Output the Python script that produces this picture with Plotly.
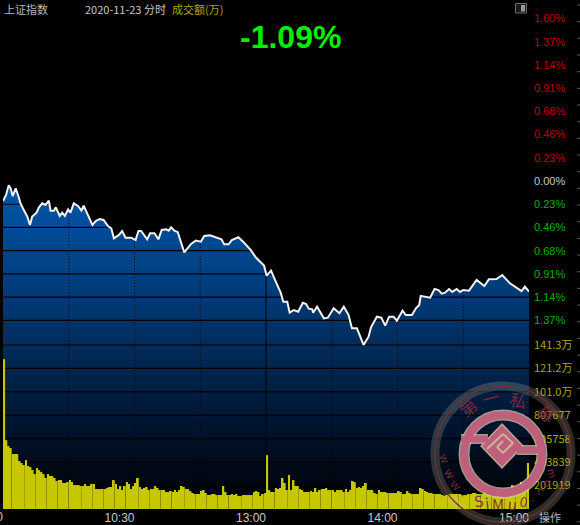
import plotly.graph_objects as go

# Minutes since 09:30 and % change of the index
minutes = [
    0, 1.4, 2.6, 3.5, 4.4, 5.8, 7, 8, 9.5, 11.1, 12.3, 13.3, 15.3, 16.4, 17.9, 19.4, 20.9, 21.7, 23.2, 24.1,
    25.9, 27, 28.2, 29.7, 30.8, 32.3, 34.2, 35.8, 36.8, 38.3, 39.5, 40.8, 42.3, 44.1, 45.9, 47.9, 49.4, 50.6,
    52.9, 54.4, 55.9, 58.5, 60.5, 61.8, 63, 65.8, 67.1, 69.1, 70.9, 72.4, 74.4, 75.6, 76.7, 78.2, 79.7, 82.7,
    85.8, 88, 90.3, 91.8, 94.4, 97.1, 99.7, 100.9, 102.9, 104.4, 107.4, 110, 113, 115.3, 119.1, 120.3, 122.3,
    124.1, 126.7, 127.9, 129.7, 130.8, 132.7, 134.7, 136.8, 138.3, 139.5, 141.1, 141.5, 143.3, 146.4, 148.2,
    150.9, 153.5, 155.5, 157.7, 159.2, 161.5, 164.5, 166.8, 167.9, 170.6, 172.6, 174.4, 176.2, 178.2, 179.7,
    182.3, 183.8, 186.6, 188.4, 189.9, 190.6, 194.9, 196.9, 198.7, 200.2, 201.7, 203.5, 205, 207, 208.5, 210,
    212.6, 216.1, 219.6, 221.7, 225.2, 227.8, 231.3, 235, 236.6, 238.1, 240,
]
pct_change = [
    -0.197, -0.138, -0.043, -0.072, -0.148, -0.072, -0.148, -0.22, -0.285, -0.351, -0.433, -0.351, -0.312,
    -0.259, -0.22, -0.236, -0.194, -0.292, -0.292, -0.259, -0.344, -0.312, -0.344, -0.279, -0.312, -0.22,
    -0.246, -0.292, -0.243, -0.318, -0.384, -0.433, -0.394, -0.374, -0.384, -0.443, -0.466, -0.564, -0.531,
    -0.492, -0.558, -0.558, -0.581, -0.492, -0.492, -0.574, -0.515, -0.515, -0.574, -0.482, -0.476, -0.489,
    -0.456, -0.489, -0.502, -0.702, -0.62, -0.587, -0.597, -0.541, -0.535, -0.558, -0.574, -0.623, -0.623,
    -0.581, -0.554, -0.607, -0.679, -0.751, -0.833, -0.932, -0.883, -0.974, -1.099, -1.188, -1.188, -1.296,
    -1.27, -1.286, -1.198, -1.211, -1.257, -1.263, -1.296, -1.237, -1.352, -1.345, -1.253, -1.302, -1.237,
    -1.319, -1.45, -1.45, -1.614, -1.532, -1.44, -1.335, -1.345, -1.424, -1.335, -1.335, -1.375, -1.276,
    -1.319, -1.319, -1.253, -1.22, -1.132, -1.148, -1.063, -1.073, -1.109, -1.099, -1.063, -1.092, -1.063,
    -1.092, -1.073, -1.079, -0.974, -1.033, -0.968, -0.965, -0.925, -1.007, -1.056, -1.083, -1.04, -1.089,
]

# Turnover per minute, in units of 10 000
volume = [
    129, 59.3, 54.2, 52.5, 47.3, 47.3, 47.3, 41.3, 39.6, 37.8, 42.1, 37, 36.1, 33.5, 30.1, 35.3, 33.5, 31.8, 30.1, 26.7,
    30.1, 28.4, 28.4, 26.7, 24.1, 24.9, 24.9, 22.4, 22.4, 23.2, 24.9, 23.2, 20.6, 20.6, 20.6, 19.8, 19.8, 21.5, 19.8, 19.8,
    21.5, 21.5, 17.2, 17.2, 17.2, 17.2, 17.2, 18.1, 18.9, 18.9, 24.9, 21.5, 17.2, 19.8, 16.3, 19.8, 23.2, 21.5, 17.2, 19.8,
    22.4, 26.7, 18.9, 17.2, 18.1, 18.9, 16.3, 17.2, 17.2, 19.8, 18.1, 16.3, 16.3, 16.3, 14.6, 14.6, 15.5, 14.6, 16.3, 14.6,
    16.3, 19.8, 18.9, 17.2, 17.2, 15.5, 13.8, 12.9, 12.9, 12.9, 15.5, 16.3, 13.8, 12, 12, 12.9, 12.9, 12, 12, 12,
    19.8, 14.6, 12, 12, 12.9, 12, 12.9, 11.2, 11.2, 12, 12, 12, 12, 12, 14.6, 15.5, 14.6, 11.2, 12.9, 13.8,
    46.4, 16.3, 14.6, 14.6, 18.1, 17.2, 18.1, 26.7, 22.4, 16.3, 29.2, 16.3, 24.9, 19.8, 19.8, 17.2, 16.3, 14.6, 14.6, 14.6,
    15.5, 14.6, 18.1, 14.6, 16.3, 17.2, 17.2, 18.1, 16.3, 16.3, 16.3, 14.6, 16.3, 16.3, 16.3, 14.6, 17.2, 14.6, 16.3, 24.1,
    23.2, 18.1, 18.9, 18.1, 19.8, 22.4, 16.3, 16.3, 16.3, 13.8, 12.9, 16.3, 14.6, 14.6, 14.6, 13.8, 13.8, 13.8, 13.8, 13.8,
    15.5, 14.6, 12.9, 12.9, 15.5, 13.8, 12.9, 12.9, 12.9, 12.9, 18.1, 17.2, 15.5, 14.6, 13.8, 13.8, 12.9, 12.9, 12.9, 12.9,
    12, 11.2, 12, 12.9, 12.9, 12.9, 12.9, 12.9, 12.9, 12, 12, 12, 12.9, 12.9, 13.8, 13.8, 12.9, 12.9, 12.9, 14.6,
    13.8, 12.9, 12.9, 12, 12.9, 13.8, 13.8, 12.9, 13.8, 14.6, 14.6, 13.8, 20.6, 15.5, 15.5, 16.3, 23.2, 17.2, 18.9, 39.6,
]

pct_ticks = [1.6, 1.371, 1.143, 0.914, 0.686, 0.457, 0.229, 0, -0.229, -0.457, -0.686, -0.914, -1.143, -1.371]
pct_labels = ["1.60%", "1.37%", "1.14%", "0.91%", "0.68%", "0.46%", "0.23%", "0.00%",
              "0.23%", "0.46%", "0.68%", "0.91%", "1.14%", "1.37%"]
vol_ticks = [141.34, 121.15, 100.96, 80.77, 60.58, 40.38, 20.19]
vol_labels = ["141.3万", "121.2万", "101.0万", "807677", "605758", "403839", "201919"]
time_ticks = [60, 120, 180, 240]
time_labels = ["10:30", "13:00", "14:00", "15:00"]
dotted_times = [30, 60, 90, 150, 180, 210]

RED, GREEN, OLIVE, GREY = "#bb0000", "#00b000", "#a8a800", "#c8c8c8"
CJK = "Noto Sans CJK SC, Liberation Sans"

PCT_TOP, PCT_BOTTOM = 1.781, -3.228
VOL_TOP = 438.7


def tick_color(v):
    return RED if v > 0 else GREEN if v < 0 else GREY


# pixel position on the 580x525 page -> paper coordinates
def px(x):
    return (x - 3) / 526


def py(y):
    return (509 - y) / 509


def vol_to_pct(v):
    return PCT_BOTTOM + v / VOL_TOP * (PCT_TOP - PCT_BOTTOM)


grid_x, grid_y = [], []
for v in [t for t in pct_ticks if t <= 0] + [vol_to_pct(t) for t in vol_ticks]:
    grid_x += [0, 240, None]
    grid_y += [v, v, None]

dot_x, dot_y = [], []
for t in dotted_times:
    dot_x += [t, t, None]
    dot_y += [PCT_BOTTOM, PCT_TOP, None]

fig = go.Figure()

# invisible floor for the area fill
fig.add_trace(go.Scatter(x=[0, 240], y=[PCT_BOTTOM, PCT_BOTTOM], mode="lines",
                         line=dict(width=0), hoverinfo="skip"))
fig.add_trace(go.Scatter(
    x=minutes, y=pct_change, mode="lines", fill="tonexty",
    line=dict(width=0),
    fillgradient=dict(type="vertical", start=0, stop=PCT_BOTTOM,
                      colorscale=[[0, "#0058ac"], [0.3, "#003f80"], [0.52, "#002a58"],
                                  [0.75, "#00142e"], [1, "#000000"]]),
))
fig.add_trace(go.Scatter(x=grid_x, y=grid_y, mode="lines", line=dict(color="#000000", width=1.2), hoverinfo="skip"))
fig.add_trace(go.Scatter(x=dot_x, y=dot_y, mode="lines", line=dict(color="#000000", width=1, dash="1px,2px"), hoverinfo="skip"))
fig.add_trace(go.Scatter(x=[120, 120], y=[PCT_BOTTOM, PCT_TOP], mode="lines", line=dict(color="#000000", width=1), hoverinfo="skip"))
fig.add_trace(go.Scatter(x=minutes, y=pct_change, mode="lines", line=dict(color="#f2f2f2", width=2)))

# dark olive underlay shows through the gaps between the bright bars;
# opacity just under 1 makes plotly snap the bars to whole pixels
fig.add_trace(go.Bar(x=list(range(240)), y=volume, yaxis="y2", width=1, offset=0,
                     marker=dict(color="#6e6e00", line=dict(width=0))))
fig.add_trace(go.Bar(x=list(range(240)), y=volume, yaxis="y2", width=0.75, offset=0.12,
                     marker=dict(color="#c8c800", opacity=0.99, line=dict(width=0))))

shapes = []
# small marks along the right edge of the window
for i in range(32):
    y = 5 + i * 16.67
    shapes.append(dict(type="line", xref="paper", yref="paper", x0=px(577), x1=px(580), y0=py(y), y1=py(y),
                       line=dict(color="#555555", width=1)))
# the little toggle button, top right
shapes.append(dict(type="rect", xref="paper", yref="paper", x0=px(515.5), x1=px(526.5), y0=py(3.5), y1=py(13),
                   line=dict(color="#6a6a6a", width=1), fillcolor="#1a1a1a"))
shapes.append(dict(type="rect", xref="paper", yref="paper", x0=px(521), x1=px(525), y0=py(5), y1=py(11.5),
                   line=dict(width=0), fillcolor="#9a9a9a"))


def circle(cx, cy, r, color, width):
    return dict(type="circle", xref="paper", yref="paper", x0=px(cx - r), x1=px(cx + r), y0=py(cy + r), y1=py(cy - r),
                line=dict(color=color, width=width), layer="above")


def segment(x0, y0, x1, y1, color, width):
    return dict(type="line", xref="paper", yref="paper", x0=px(x0), x1=px(x1), y0=py(y0), y1=py(y1),
                line=dict(color=color, width=width), layer="above")


def polygon(points, fill, color="rgba(0,0,0,0)", width=0):
    path = "M " + " L ".join(f"{px(x):.4f},{py(y):.4f}" for x, y in points) + " Z"
    return dict(type="path", xref="paper", yref="paper", path=path, fillcolor=fill,
                line=dict(color=color, width=width), layer="above")


# watermark stamp
PINK, PALE = "#bf5f7c", "rgba(205,205,165,0.75)"
shapes += [
    circle(503, 454, 68, "rgba(200,205,175,0.22)", 9),
    circle(503, 454, 68, "rgba(115,45,55,0.95)", 1.3),
    circle(503, 454, 39, PALE, 11),
    segment(461, 439, 488, 439, PALE, 10),
    segment(517, 450, 546, 450, PALE, 10),
    polygon([(502, 424), (523, 446), (502, 468), (481, 446)], PINK, PALE, 1.5),
    circle(503, 454, 39, PINK, 8),
    segment(461, 439, 488, 439, PINK, 7),
    segment(517, 450, 546, 450, PINK, 7),
    segment(487, 449, 503, 434, PALE, 2),
    segment(503, 434, 513, 443, PALE, 2),
    segment(513, 443, 503, 453, PALE, 2),
    segment(503, 453, 497, 447, PALE, 2),
    segment(497, 447, 503, 441, PALE, 2),
]

STAMP = "rgba(125,45,65,0.95)"
stamp_text = [
    ("第", 467, 407, -40, 17), ("一", 490, 397, -15, 17), ("私", 518, 399, 12, 17), ("募", 547, 412, 40, 17),
    ("w", 446, 458, 65, 12), ("w", 451, 473, 55, 12), ("w", 457, 484, 45, 12), (".", 465, 491, 35, 12),
    ("S", 478, 500, -12, 15), ("i", 487, 502, -6, 15), ("M", 498, 503, 0, 15), ("u", 512, 503, 4, 15),
    ("0", 524, 501, 10, 14), (".", 535, 496, 30, 12), ("c", 542, 490, 45, 11), ("o", 548, 482, 55, 11),
    ("m", 553, 472, 70, 10),
]

annotations = [
    dict(text="上证指数", x=px(3), y=py(9), xanchor="left", font=dict(family=CJK, size=11, color="#b8b8b8")),
    dict(text="2020-11-23 分时", x=px(84), y=py(9), xanchor="left", font=dict(family=CJK, size=11, color="#c8c8c8")),
    dict(text="成交额(万)", x=px(171), y=py(9), xanchor="left", font=dict(family=CJK, size=11, color=OLIVE)),
    dict(text="<b>-1.09%</b>", x=px(290), y=py(37), xanchor="center", font=dict(family="Liberation Sans", size=32, color="#00ee00")),
    dict(text="操作", x=px(550), y=py(516.5), xanchor="center", font=dict(family=CJK, size=11, color="#b8b8b8")),
    # left-most time label runs off the window in the original too
    dict(text="09:30", x=px(3.5), y=py(517), xanchor="right", font=dict(family="Liberation Sans", size=12, color="#c8c8c8")),
]
for ch, x, y, angle, size in stamp_text:
    annotations.append(dict(text=ch, x=px(x), y=py(y), textangle=angle, xanchor="center",
                            font=dict(family=CJK, size=size, color=STAMP)))
for a in annotations:
    # explicit yanchor: "auto" would bottom/top anchor by position on the page
    a.update(xref="paper", yref="paper", yanchor="middle", showarrow=False, borderpad=0)

fig.update_layout(
    width=580,
    height=525,
    margin=dict(l=3, r=51, t=0, b=16, autoexpand=False),
    paper_bgcolor="#000000",
    plot_bgcolor="#000000",
    showlegend=False,
    barmode="overlay",
    shapes=shapes,
    annotations=annotations,
    font=dict(family="Liberation Sans", size=11),
    xaxis=dict(
        range=[0, 240], tickvals=time_ticks, ticktext=time_labels, showgrid=False, zeroline=False,
        ticks="", ticklabelshift=-15, ticklabelstandoff=0, tickangle=0,
        tickfont=dict(family="Liberation Sans", size=12, color="#c8c8c8"),
    ),
    yaxis=dict(
        range=[PCT_BOTTOM, PCT_TOP], side="right", showgrid=False, zeroline=False, ticks="",
        tickvals=pct_ticks,
        ticktext=[f'<span style="color:{tick_color(v)}">{s}</span>' for v, s in zip(pct_ticks, pct_labels)],
        ticklabelstandoff=4,
        tickfont=dict(family="Liberation Sans", size=11, color=GREEN),
    ),
    yaxis2=dict(
        range=[0, VOL_TOP], side="right", overlaying="y", showgrid=False, zeroline=False, ticks="",
        tickvals=vol_ticks, ticktext=vol_labels, ticklabelstandoff=4,
        tickfont=dict(family=CJK, size=11, color=OLIVE),
    ),
)

# the default page has an 8px body margin, drop it so the chart fills the window
fig.write_html("out.html", config={"displayModeBar": False},
               post_script="document.body.style.margin='0';document.body.style.background='#000';")
